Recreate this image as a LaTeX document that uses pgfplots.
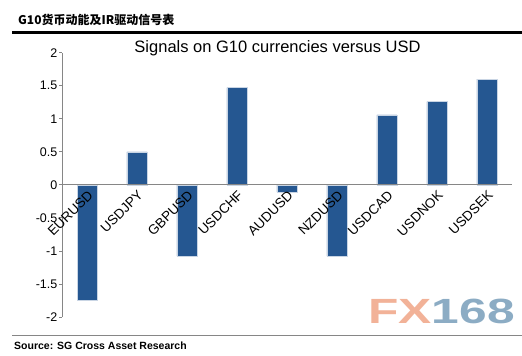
\documentclass[border=0pt]{standalone}
\usepackage{fontspec}
\setmainfont{Liberation Sans}
\newfontfamily\cjk{Noto Sans CJK SC}
\usepackage{pgfplots}
\pgfplotsset{compat=1.18}
\definecolor{barblue}{RGB}{37,87,145}
\definecolor{axisgrey}{RGB}{134,134,134}
\definecolor{fxorange}{RGB}{242,178,152}
\definecolor{fxblue}{RGB}{140,172,196}
\begin{document}
\begin{tikzpicture}
\useasboundingbox (0bp,0bp) rectangle (522bp,-356bp);
\fill[white] (0bp,0bp) rectangle (522bp,-356bp);
\node[anchor=west,inner sep=0] at (18bp,-20bp) {\cjk\bfseries\fontsize{12bp}{14bp}\selectfont G10货币动能及IR驱动信号表};
\draw[black,line width=3bp] (12bp,-32.5bp) -- (522bp,-32.5bp);
\draw[axisgrey,line width=1bp] (12bp,-335.7bp) -- (522bp,-335.7bp);
\node[anchor=west, inner sep=0] at (14bp,-346bp) {\bfseries\fontsize{10.5bp}{12bp}\selectfont Source: SG Cross Asset Research};
\node[anchor=south west, inner sep=0, xscale=1.42] at (368bp,-324bp) {\fontsize{35bp}{35bp}\selectfont\bfseries\textcolor{fxorange}{FX}\textcolor{fxblue}{168}};
\begin{axis}[
  at={(62bp,-317bp)}, anchor=south west,
  scale only axis, width=450bp, height=264.3bp,
  xmin=-0.5, xmax=8.5, ymin=-2, ymax=2,
  axis y line*=left, axis x line*=middle,
  axis on top,
  axis line style={axisgrey, line width=0.8bp},
  ybar, bar width=20bp,
  xtick={0,1,2,3,4,5,6,7,8},
  xticklabels={EURUSD,USDJPY,GBPUSD,USDCHF,AUDUSD,NZDUSD,USDCAD,USDNOK,USDSEK},
  x tick style={draw=none},
  xticklabel style={rotate=45, anchor=north east, font=\fontsize{13.5bp}{15bp}\selectfont, inner sep=1bp},
  ytick={-2,-1.5,-1,-0.5,0,0.5,1,1.5,2},
  yticklabels={-2,-1.5,-1,-0.5,0,0.5,1,1.5,2},
  y tick style={axisgrey, line width=0.8bp},
  tick align=outside, major tick length=3bp,
  yticklabel style={font=\fontsize{12.5bp}{14bp}\selectfont, inner sep=1.5bp},
  title={Signals on G10 currencies versus USD},
  title style={at={(axis description cs:0.479,0.98)}, anchor=base, font=\fontsize{16.5bp}{18bp}\selectfont, inner sep=0},
]
\addplot[fill=barblue, draw=white!75!barblue, line width=0.5bp] coordinates {
(0,-1.75) (1,0.50) (2,-1.08) (3,1.47) (4,-0.11) (5,-1.08) (6,1.06) (7,1.26) (8,1.60)};
\end{axis}
\end{tikzpicture}
\end{document}
